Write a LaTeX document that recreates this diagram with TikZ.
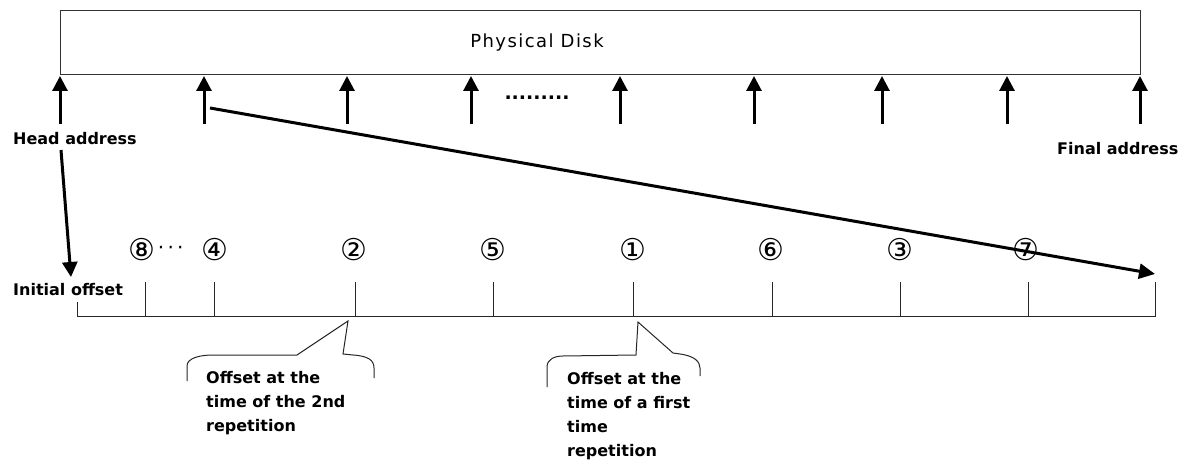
\documentclass[tikz,border=0pt]{standalone}
\usepackage{fontspec}
\setmainfont{DejaVu Sans}
\newfontfamily\diskfont[LetterSpace=8]{DejaVu Sans}
\usetikzlibrary{arrows.meta,positioning}
\tikzset{
  bigarrow/.style={line width=3pt, -{Triangle[length=15pt, width=15pt]}},
  offtick/.style={line width=1pt, draw=black!85},
  lbl/.style={font=\fontsize{16}{24}\selectfont\bfseries, inner sep=0pt, anchor=base west},
  num/.style={font=\fontsize{30}{30}\selectfont, inner sep=0pt},
  callout/.style={line width=1pt, draw=black!85},
  note/.style={font=\fontsize{16}{24}\selectfont\bfseries, inner sep=0pt, align=left, anchor=north west},
}

\begin{document}
\begin{tikzpicture}[x=1pt, y=-1pt]
\useasboundingbox (0,0) rectangle (1192,460);
% ===================== physical disk and its addresses
\node[draw=black!80, line width=1pt, minimum width=1080pt, minimum height=64pt, inner sep=0pt] (disk) at (600,43) {};
\node[font=\diskfont\fontsize{18}{20}\selectfont] (disklbl) at (537,43) {Physical Disk};
\foreach \x [count=\i] in {60,204,347,471,620,754,882,1007,1140}{
  \coordinate (ab\i) at (\x,124);
  \coordinate (at\i) at (\x,76);
  \draw[bigarrow] (ab\i) -- (at\i);
}
\node[font=\fontsize{19}{19}\selectfont\bfseries] (gap) at (537,98) {.........};
\node[lbl] (head) at (13,144) {Head address};
\node[lbl] (final) at (1057,154) {Final address};
\node[lbl] (init) at (13,295) {Initial offset};
% head address points at the initial offset
\coordinate (hs) at (61,150);
\coordinate (he) at (71,277);
\draw[bigarrow] (hs) -- (he);
% ===================== offsets on the logical line
\draw[offtick] (77,302) -- (77,316) -- (1155,316) -- (1155,282);
\foreach \x in {145,214,355,493,633,772,900,1028}{
  \draw[offtick] (\x,282) -- (\x,316);
}
\foreach \x/\n/\g in {142/8/⑧,215/4/④,354/2/②,493/5/⑤,633/1/①,771/6/⑥,900/3/③,1026/7/⑦}{
  \node[num] (c\n) at (\x,250) {\g};
}
\node[font=\fontsize{20}{20}\selectfont, inner sep=0pt, right=2pt of c8] (more) {·\,·\,·};
% order in which the offsets are visited
\coordinate (ds) at (210,108);
\coordinate (de) at (1155,274);
\draw[line width=3pt, -{Triangle[length=16pt, width=15pt]}] (ds) -- (de);
% ===================== callouts
\draw[callout] (187,381) -- (187,366) .. controls (187,358) and (200,355) .. (213,355)
  -- (297,355) -- (348,321) -- (343,354) -- (353,355)
  .. controls (368,356) and (374,360) .. (374,368) -- (374,378);
\node[note] (rep2) at (206,371) {Offset at the\\time of the 2nd\\repetition};
\draw[callout] (547,387) -- (547,367) .. controls (547,359) and (555,356) .. (563,356)
  -- (636,355) -- (638,322) -- (673,353) -- (680,354)
  .. controls (695,356) and (700,362) .. (700,368) -- (700,376);
\node[note] (rep1) at (567,372) {Offset at the\\time of a first\\time\\repetition};
\end{tikzpicture}
\end{document}
